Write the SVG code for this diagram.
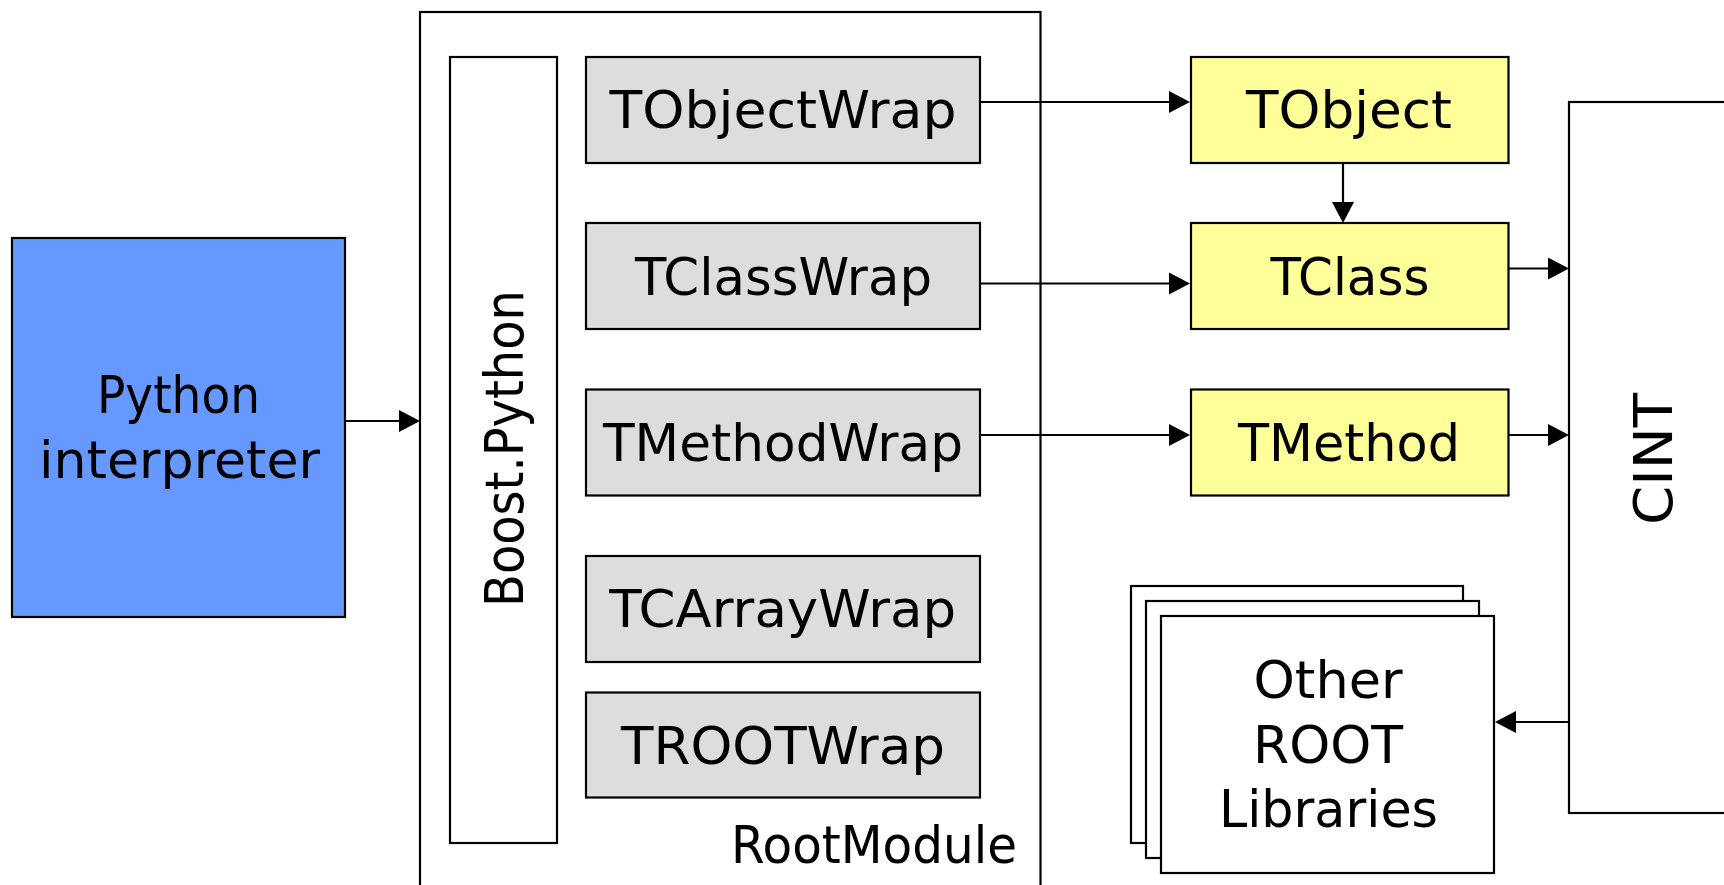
<svg xmlns="http://www.w3.org/2000/svg" width="1724" height="885" viewBox="0 0 1724 885">
<defs>
<style>
.box{stroke:#000;stroke-width:2.2}
.white{fill:#fff}
.gray{fill:#dddddd}
.yellow{fill:#ffff99}
.blue{fill:#6699ff}
text{font-family:"DejaVu Sans","Liberation Sans",sans-serif;font-size:51px;fill:#000;text-anchor:middle}
.conn line{stroke:#000;stroke-width:2.2;marker-end:url(#arr)}
</style>
<marker id="arr" markerUnits="userSpaceOnUse" markerWidth="22" markerHeight="23" refX="11" refY="11" orient="auto" viewBox="0 0 22 22">
<path d="M0,0 L21,11 L0,22 z" fill="#000"/>
</marker>
</defs>
<rect width="1724" height="885" fill="#fff"/>

<g id="python">
<rect class="box blue" x="12" y="238" width="333" height="379"/>
<text x="178.5" y="413" textLength="163" lengthAdjust="spacingAndGlyphs">Python</text>
<text x="179.5" y="478" textLength="281" lengthAdjust="spacingAndGlyphs">interpreter</text>
</g>

<g id="rootmodule">
<rect class="box white" x="420" y="12" width="620.5" height="900"/>
<text x="874" y="863" textLength="286" lengthAdjust="spacingAndGlyphs">RootModule</text>
</g>

<g id="boost">
<rect class="box white" x="450" y="57" width="107" height="786"/>
<text transform="translate(523,448.5) rotate(-90)" font-size="53" textLength="317" lengthAdjust="spacingAndGlyphs" style="font-size:53px">Boost.Python</text>
</g>

<g id="tobjectwrap">
<rect class="box gray" x="586" y="57" width="394" height="106"/>
<text x="783" y="128" textLength="347" lengthAdjust="spacingAndGlyphs">TObjectWrap</text>
</g>
<g id="tclasswrap">
<rect class="box gray" x="586" y="223" width="394" height="106"/>
<text x="783.5" y="295" textLength="297" lengthAdjust="spacingAndGlyphs">TClassWrap</text>
</g>
<g id="tmethodwrap">
<rect class="box gray" x="586" y="389.5" width="394" height="106"/>
<text x="783" y="461" textLength="360" lengthAdjust="spacingAndGlyphs">TMethodWrap</text>
</g>
<g id="tcarraywrap">
<rect class="box gray" x="586" y="556" width="394" height="106"/>
<text x="782.7" y="627" textLength="347" lengthAdjust="spacingAndGlyphs">TCArrayWrap</text>
</g>
<g id="trootwrap">
<rect class="box gray" x="586" y="692.5" width="394" height="105"/>
<text x="783" y="764" textLength="324" lengthAdjust="spacingAndGlyphs">TROOTWrap</text>
</g>

<g id="tobject">
<rect class="box yellow" x="1191" y="57" width="317.5" height="106"/>
<text x="1349" y="128" textLength="206" lengthAdjust="spacingAndGlyphs">TObject</text>
</g>
<g id="tclass">
<rect class="box yellow" x="1191" y="223" width="317.5" height="106"/>
<text x="1350" y="294.5" textLength="159" lengthAdjust="spacingAndGlyphs">TClass</text>
</g>
<g id="tmethod">
<rect class="box yellow" x="1191" y="389.5" width="317.5" height="106"/>
<text x="1349" y="461" textLength="222" lengthAdjust="spacingAndGlyphs">TMethod</text>
</g>

<g id="cint">
<rect class="box white" x="1569" y="102" width="200" height="711"/>
<text transform="translate(1672,459) rotate(-90)" style="font-size:53px" textLength="132" lengthAdjust="spacingAndGlyphs">CINT</text>
</g>

<g id="otherlibs">
<rect class="box white" x="1131" y="586" width="332" height="257"/>
<rect class="box white" x="1146" y="601" width="333" height="257"/>
<rect class="box white" x="1161" y="616" width="333" height="257"/>
<text x="1328" y="698" textLength="149" lengthAdjust="spacingAndGlyphs">Other</text>
<text x="1328" y="763" textLength="150" lengthAdjust="spacingAndGlyphs">ROOT</text>
<text x="1328.5" y="827" textLength="219" lengthAdjust="spacingAndGlyphs">Libraries</text>
</g>

<g id="connectors" class="conn">
<line x1="345" y1="421" x2="410" y2="421"/>
<line x1="980" y1="102" x2="1180" y2="102"/>
<line x1="980" y1="283.5" x2="1180" y2="283.5"/>
<line x1="980" y1="435" x2="1180" y2="435"/>
<line x1="1343" y1="163" x2="1343" y2="213"/>
<line x1="1508.5" y1="268.5" x2="1559" y2="268.5"/>
<line x1="1508.5" y1="435" x2="1559" y2="435"/>
<line x1="1569" y1="722" x2="1505" y2="722"/>
</g>
</svg>
